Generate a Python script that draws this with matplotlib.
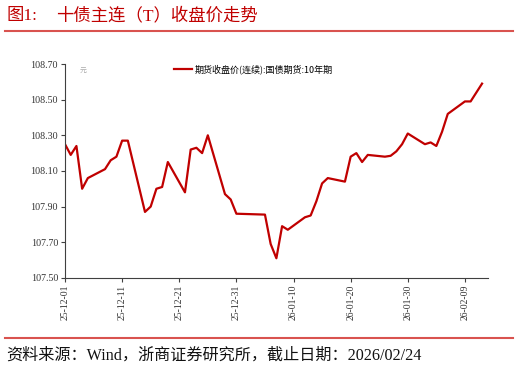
import numpy as np
import pandas as pd
import matplotlib
matplotlib.use("Agg")
import matplotlib.pyplot as plt
from matplotlib.lines import Line2D

plt.rcParams['font.family'] = ['Noto Sans CJK SC', 'DejaVu Sans']
serif_cjk = ['Liberation Serif', 'Noto Sans CJK SC']

# 交易日与收盘价
dates = ["2025-12-01", "2025-12-02", "2025-12-03", "2025-12-04", "2025-12-05",
         "2025-12-08", "2025-12-09", "2025-12-10", "2025-12-11", "2025-12-12",
         "2025-12-15", "2025-12-16", "2025-12-17", "2025-12-18", "2025-12-19",
         "2025-12-22", "2025-12-23", "2025-12-24", "2025-12-25", "2025-12-26",
         "2025-12-29", "2025-12-30", "2025-12-31",
         "2026-01-05", "2026-01-06", "2026-01-07", "2026-01-08", "2026-01-09",
         "2026-01-12", "2026-01-13", "2026-01-14", "2026-01-15", "2026-01-16",
         "2026-01-19", "2026-01-20", "2026-01-21", "2026-01-22", "2026-01-23",
         "2026-01-26", "2026-01-27", "2026-01-28", "2026-01-29", "2026-01-30",
         "2026-02-02", "2026-02-03", "2026-02-04", "2026-02-05", "2026-02-06",
         "2026-02-09", "2026-02-10", "2026-02-11", "2026-02-12"]
close = [108.25, 108.19, 108.24, 108.00, 108.06,
         108.11, 108.16, 108.18, 108.27, 108.27,
         107.87, 107.90, 108.00, 108.01, 108.15,
         107.98, 108.22, 108.23, 108.20, 108.30,
         107.97, 107.94, 107.86,
         107.855, 107.69, 107.61, 107.79, 107.77,
         107.84, 107.85, 107.93, 108.03, 108.06,
         108.04, 108.18, 108.20, 108.15, 108.19,
         108.18, 108.185, 108.21, 108.25, 108.31,
         108.25, 108.26, 108.24, 108.32, 108.42,
         108.49, 108.49, 108.54, 108.59]
yticks = [107.50, 107.70, 107.90, 108.10, 108.30, 108.50, 108.70]

dates = pd.to_datetime(dates)
red = "#C00000"

fig = plt.figure(figsize=(5.2, 3.7), dpi=100)
ax = fig.add_axes([0.125, 0.249, 0.813, 0.578])

ax.plot(dates, close, color=red, lw=1.6)

ax.set_ylim(107.50, 108.70)
ax.set_yticks(yticks)
ax.set_yticklabels(["%.2f" % v for v in yticks], family="Liberation Serif", fontsize=7.2)
ax.set_xlim(pd.Timestamp("2025-12-01"), pd.Timestamp("2026-02-13"))
ticks = pd.date_range("2025-12-01", "2026-02-13", freq="10D")
ax.set_xticks(ticks)
ax.set_xticklabels([d.strftime("%y-%m-%d") for d in ticks], rotation=90,
                   family="Liberation Serif", fontsize=7)
ax.tick_params(length=3, width=0.8, colors="#404040", labelcolor="#333333", pad=2)
for s in ["top", "right"]:
    ax.spines[s].set_visible(False)
for s in ["left", "bottom"]:
    ax.spines[s].set_color("#404040")
    ax.spines[s].set_linewidth(0.8)

# 单位水印
ax.text(0.035, 0.985, "元", transform=ax.transAxes, fontsize=5, color="#aaaaaa",
        va="top", ha="left")

leg = ax.legend([Line2D([], [], color=red, lw=1.6)],
                ["期货收盘价(连续):国债期货:10年期"],
                loc="upper center", bbox_to_anchor=(0.445, 1.035), frameon=False,
                fontsize=6.5, handlelength=2.0, handletextpad=0.3)

# 标题与来源
fig.text(0.012, 0.958, "图1:", color=red, fontsize=12.5, family=serif_cjk,
         va="center", ha="left")
fig.text(0.108, 0.958, "十债主连（T）收盘价走势", color=red, fontsize=12.5,
         family=serif_cjk, va="center", ha="left")
fig.add_artist(Line2D([0.01, 0.987], [0.917, 0.917], color="#D9534F", lw=1.5))
fig.add_artist(Line2D([0.01, 0.987], [0.086, 0.086], color="#D9534F", lw=1.5))
fig.text(0.012, 0.04, "资料来源：Wind，浙商证券研究所，截止日期：2026/02/24",
         color="#111111", fontsize=11.6, family=serif_cjk, va="center", ha="left")

fig.savefig("out.png", dpi=100)
